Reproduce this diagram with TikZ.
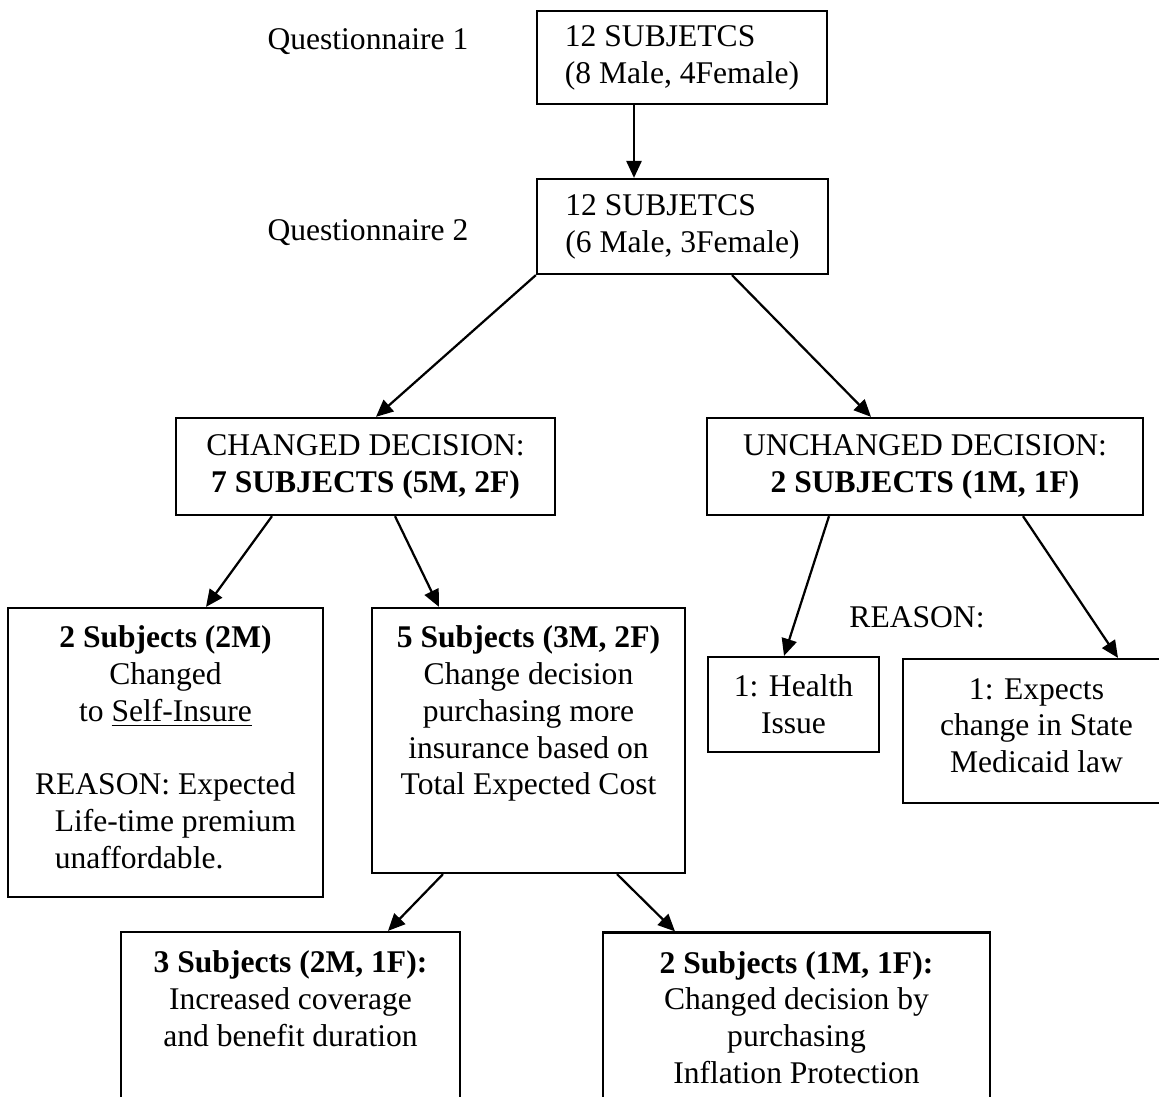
\documentclass[tikz,border=0pt]{standalone}
\usepackage{fontspec}
\setmainfont{Liberation Serif}
\usepackage{tikz}
\usetikzlibrary{arrows.meta}

\tikzset{
  box/.style={draw, line width=0.85pt, inner sep=0pt, align=center, font=\fontsize{12}{14}\selectfont},
  plain/.style={inner sep=0pt, font=\fontsize{12}{14}\selectfont},
  link/.style={line width=0.85pt, -{Triangle[length=6.5pt,width=5.8pt]}},
}

\begin{document}
\begin{tikzpicture}[x=0.38pt,y=-0.38pt]
\useasboundingbox (0,0) rectangle (1159,1096);
\clip (0,0) rectangle (1159,1096);

% Questionnaire labels
\node[plain,anchor=west] (lab1) at (267,42) {Questionnaire 1};
\node[plain,anchor=west] (lab2) at (267,233) {Questionnaire 2};

% Top boxes
\node[box,align=left,minimum width=110.2pt,minimum height=35.3pt] (q1) at (682,57.5)
  {12 SUBJETCS\\(8 Male, 4Female)};
\node[box,align=left,minimum width=110.6pt,minimum height=36.1pt] (q2) at (682.5,226.5)
  {12 SUBJETCS\\(6 Male, 3Female)};

% Decision boxes
\node[box,minimum width=144pt,minimum height=36.9pt] (chg) at (365.5,466.5)
  {CHANGED DECISION:\\\textbf{7 SUBJECTS (5M, 2F)}};
\node[box,minimum width=165.7pt,minimum height=36.9pt] (unc) at (925,466.5)
  {UNCHANGED DECISION:\\\textbf{2 SUBJECTS (1M, 1F)}};

% Changed branch
\node[box,minimum width=119.7pt,minimum height=109.8pt] (slf) at (165.5,752.5)
  {\textbf{2 Subjects (2M)}\\Changed\\to \underline{Self-Insure}\\[14pt]%
   \begin{tabular}[t]{@{}l@{}}REASON: Expected\\\hspace*{7.5pt}Life-time premium\\\hspace*{7.5pt}unaffordable.\end{tabular}};
\node[box,minimum width=119pt,minimum height=100.7pt] (fiv) at (528.5,740.5)
  {\textbf{5 Subjects (3M, 2F)}\\Change decision\\purchasing more\\insurance based on\\Total Expected Cost\\[9pt]\mbox{}};

% Unchanged branch
\node[plain] (rsn) at (917,617) {REASON:};
\node[box,minimum width=65pt,minimum height=36.1pt] (hlt) at (793.5,704.5)
  {1: Health\\Issue};
\node[box,minimum width=101.5pt,minimum height=54.7pt] (exp) at (1036.5,731)
  {1: Expects\\change in State\\Medicaid law\\[-9.8pt]\mbox{}};

% Bottom boxes
\node[box,minimum width=128.8pt,minimum height=64.6pt] (cov) at (290.5,1017)
  {\textbf{3 Subjects (2M, 1F):}\\Increased coverage\\and benefit duration\\\mbox{}};
\node[box,minimum width=147pt,minimum height=64.6pt] (inf) at (796.5,1017.5)
  {\textbf{2 Subjects (1M, 1F):}\\Changed decision by\\purchasing\\Inflation Protection};

% Arrows
\draw[link] (634,0 |- q1.south) -- (634,0 |- q2.north);
\draw[link] (q2.south west) -- (376,0 |- chg.north);
\draw[link] (732,0 |- q2.south) -- (871,0 |- unc.north);
\draw[link] (272,0 |- chg.south) -- (206,0 |- slf.north);
\draw[link] (395,0 |- chg.south) -- (439,0 |- fiv.north);
\draw[link] (829,0 |- unc.south) -- (784,0 |- hlt.north);
\draw[link] (1023,0 |- unc.south) -- (1118,0 |- exp.north);
\draw[link] (443,0 |- fiv.south) -- (388,0 |- cov.north);
\draw[link] (617,0 |- fiv.south) -- (675,0 |- inf.north);
\end{tikzpicture}
\end{document}
